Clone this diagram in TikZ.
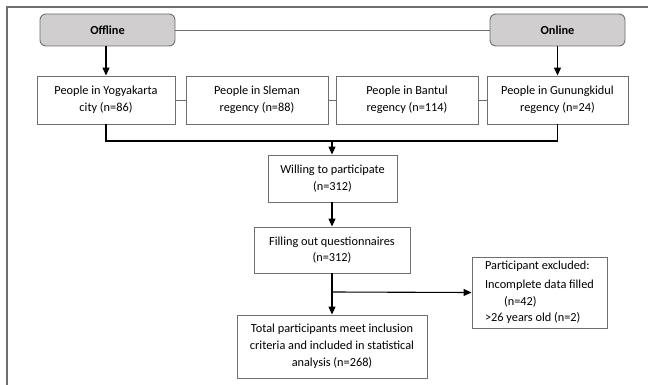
\documentclass[tikz,border=0pt]{standalone}
\usepackage{fontspec}
\setmainfont{Carlito}
\usepackage{xcolor}
\usepackage{tikz}
\usetikzlibrary{arrows.meta}
\definecolor{groupfill}{HTML}{D0CECE}
\definecolor{edgegray}{HTML}{6F6F6F}
\newcommand{\boxfont}{\fontsize{12.3}{16.8}\selectfont}
\tikzset{
    box/.style={draw=edgegray, line width=0.9pt, fill=white, align=center, inner sep=2pt, font=\boxfont},
    group/.style={box, rounded corners=6pt, fill=groupfill, font=\boxfont\bfseries, minimum width=135pt, minimum height=32pt},
    region/.style={box, minimum height=48pt},
    arrow/.style={-{Triangle[length=8pt, width=7pt]}, line width=1.1pt, black},
    link/.style={draw=edgegray, line width=0.8pt},
    merge/.style={line width=1.8pt, black}
}

\begin{document}
\begin{tikzpicture}[x=1pt, y=-1pt]
    \useasboundingbox (0,0) rectangle (648,385);
    % frame
    \draw[edgegray, line width=1.2pt] (7,385) -- (7,7) -- (648,7);

    % recruitment groups
    \node[group] (offline) at (107.5,30) {Offline};
    \node[group] (online) at (557.5,30) {Online};
    \draw[link] (offline.east) -- (online.west);

    % regions
    \node[region, minimum width=138pt] (yogya) at (106,100) {People in Yogyakarta\\city (n=86)};
    \node[region, minimum width=142pt] (sleman) at (257,100) {People in Sleman\\regency (n=88)};
    \node[region, minimum width=142pt] (bantul) at (407,100) {People in Bantul\\regency (n=114)};
    \node[region, minimum width=141pt] (gunung) at (557.5,100) {People in Gunungkidul\\regency (n=24)};
    \draw[link] (yogya.east) -- (sleman.west);
    \draw[link] (sleman.east) -- (bantul.west);
    \draw[link] (bantul.east) -- (gunung.west);

    \draw[arrow] (offline.south -| yogya.north) -- (yogya.north);
    \draw[arrow] (online.south) -- (online.south |- gunung.north);

    % merging line
    \coordinate (join) at (332,141);
    \draw[merge] (yogya.south) -- (yogya.south |- join) -- (gunung.south |- join) -- (gunung.south);

    % flow
    \node[box, minimum width=129pt, minimum height=47pt] (willing) at (332.5,178.5) {Willing to participate\\(n=312)};
    \node[box, minimum width=156pt, minimum height=46pt] (filling) at (332,250) {Filling out questionnaires\\(n=312)};
    \node[box, minimum width=190pt, minimum height=63pt] (total) at (332,346.5) {Total participants meet inclusion\\criteria and included in statistical\\analysis (n=268)};
    \node[box, minimum width=135pt, minimum height=71pt, align=left] (excluded) at (539.5,292.5) {Participant excluded:\\[2pt]Incomplete data filled\\\hspace*{19pt}(n=42)\\[0pt]>26 years old (n=2)};

    \draw[arrow] (join) -- (join |- willing.north);
    \draw[arrow] (willing.south -| join) -- (join |- filling.north);
    \coordinate (branch) at (332,292);
    \draw[arrow] (filling.south -| join) -- (join |- total.north);
    \draw[arrow] (branch) -- (excluded.west);
\end{tikzpicture}
\end{document}
